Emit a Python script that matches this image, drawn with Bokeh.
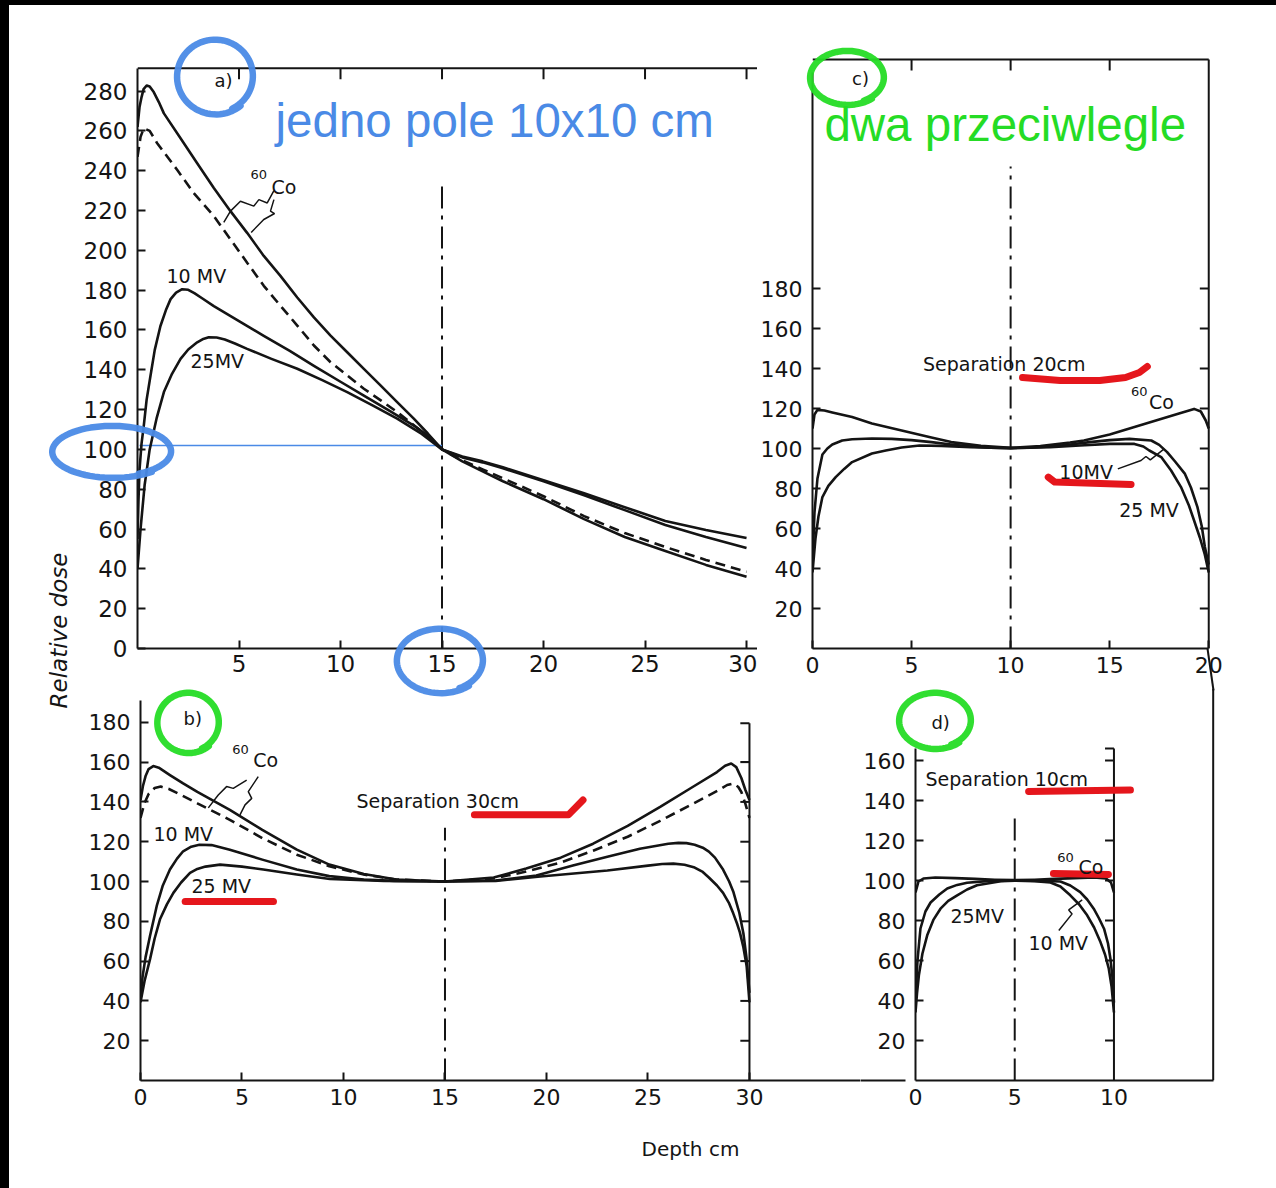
import numpy as np
from bokeh.plotting import figure
from bokeh.models import Range1d, LinearAxis, FixedTicker, Label, Div, Spacer
from bokeh.layouts import row, column
from bokeh.embed import file_html
from bokeh.resources import INLINE

# ---------------- data: panel a) single 10x10 field, normalised to 100 at 15 cm ----------------
A_CO_SOLID_DEPTH = [0, 0.1, 0.2, 0.3, 0.45, 0.6, 0.8, 1.05, 1.3, 2.12, 2.94, 3.76, 4.58, 5.4, 6.22, 7.04,
                    7.87, 8.69, 9.51, 10.33, 11.15, 11.97, 12.79, 13.61, 14.3, 15, 16, 17, 18, 19, 20,
                    22, 24, 26, 28, 30]
A_CO_SOLID_DOSE = [262, 272, 277, 281, 282.8, 282.3, 279.5, 274.5, 268.8, 256.3, 243.8, 231.3, 219.7,
                   208.8, 197.2, 187.2, 176.3, 166.3, 157.2, 148.8, 140.5, 132.2, 123.8, 115.5, 108,
                   100, 94, 89, 84, 79.5, 75, 65, 56, 49, 42, 36]
A_CO_DASH_DEPTH = [0, 0.15, 0.31, 0.6, 0.97, 1.95, 2.77, 3.76, 4.58, 5.4, 6.22, 7.04, 7.87, 8.69, 9.51,
                   10.33, 11.15, 12.0, 12.79, 14.0, 15, 16, 17, 18, 20, 22, 24, 26, 28, 30]
A_CO_DASH_DOSE = [247, 257, 261.3, 260, 253.8, 240.5, 228.8, 217.2, 205.5, 193.8, 182.2, 172.2, 162.2,
                  152.2, 143.8, 137.2, 130.5, 124.5, 118.8, 109, 100, 94.5, 90, 85.5, 76.5, 66.5, 58,
                  51, 44.5, 38.5]
A_10MV_DEPTH = [0, 0.05, 0.1, 0.2, 0.31, 0.45, 0.64, 0.85, 1.13, 1.4, 1.63, 1.9, 2.2, 2.5, 2.8, 3.2,
                3.76, 5.0, 6.22, 7.5, 8.69, 10.0, 11.15, 12.4, 13.61, 14.4, 15, 16, 17, 18, 20, 22, 24,
                26, 28, 30]
A_10MV_DOSE = [55, 75, 90, 103, 112, 125, 137, 150, 162, 170, 175.5, 178.8, 180.5, 180.2, 178.5, 175.8,
               172, 164.5, 157, 149.5, 142, 134, 127, 119.5, 112, 106.2, 100, 96, 93.5, 90.5, 84, 77,
               69.5, 62, 56, 50.5]
A_25MV_DEPTH = [0, 0.15, 0.35, 0.6, 0.95, 1.3, 1.7, 2.12, 2.5, 2.94, 3.2, 3.51, 3.9, 4.3, 4.8, 5.4,
                6.6, 7.87, 9.1, 10.33, 11.6, 12.79, 14.0, 15, 16, 17, 18, 20, 22, 24, 26, 28, 30]
A_25MV_DOSE = [40, 60, 82, 100, 116, 128.8, 138, 145.5, 150.2, 153.8, 155.3, 156.3, 156.2, 155.2, 153.2,
               150.5, 145.5, 140.5, 134.8, 128.8, 122, 115.5, 107.8, 100, 96.5, 94, 91, 84.5, 78, 71,
               64, 59.5, 55.5]

# ---------------- data: panel b) parallel opposed, separation 30 cm ----------------
B_CO_SOLID_DEPTH = [0, 0.12, 0.25, 0.4, 0.63, 0.9, 1.45, 2.1, 2.8, 4.4, 6.0, 7.7, 9.3, 11.0, 12.6, 15.0,
                    17.4, 19.0, 20.7, 22.3, 24.0, 25.6, 27.2, 28.4, 28.8, 29.1, 29.35, 29.6, 29.8, 30]
B_CO_SOLID_DOSE = [141, 148, 153, 156.5, 158, 157.2, 153.5, 149.3, 145, 136, 126, 116, 108.5, 103.8, 101,
                   100, 102, 106.5, 112, 119, 128, 137.5, 147.5, 155, 158.2, 159.3, 157.5, 152, 146, 141]
B_CO_DASH_DEPTH = [0, 0.2, 0.4, 0.7, 1.0, 1.4, 2.0, 2.8, 4.4, 6.0, 7.7, 9.3, 11.0, 12.6, 15.0, 17.4,
                   19.0, 20.7, 22.3, 24.0, 25.6, 27.2, 28.5, 28.9, 29.2, 29.45, 29.6, 29.8, 30]
B_CO_DASH_DOSE = [132, 139.5, 144, 147, 147.7, 146.5, 143.5, 139.3, 131, 121.8, 113.5, 107.7, 103.5, 101,
                  100, 101.5, 105, 109.5, 115.5, 122.5, 130.5, 139, 146, 148.5, 149.3, 147.5, 145, 139,
                  132]
B_10MV_DEPTH = [0, 0.1, 0.25, 0.47, 0.8, 1.1, 1.45, 1.8, 2.1, 2.5, 2.9, 3.5, 4.4, 6.0, 7.7, 9.3, 11.0,
                12.5, 15.0, 17.5, 19.5, 21.3, 23.0, 24.6, 26.0, 26.5, 26.9, 27.3, 27.7, 28.0, 28.3,
                28.7, 29.0, 29.2, 29.5, 29.7, 29.85, 30]
B_10MV_DOSE = [42, 52, 62, 72.7, 87.7, 98, 106, 111.5, 115.2, 117.5, 118.5, 118.3, 116, 111, 106, 102.7,
               101, 100.3, 100, 100.5, 103, 108, 112.5, 116.5, 119, 119.4, 119.3, 118.5, 117, 115, 112,
               106, 100, 95, 84.3, 74, 62, 44]
B_25MV_DEPTH = [0, 0.2, 0.47, 0.7, 0.96, 1.3, 1.62, 2.0, 2.44, 2.8, 3.2, 3.92, 5.0, 6.05, 7.7, 9.33,
                12.0, 15.0, 17.5, 19.7, 23.0, 25.0, 25.7, 26.25, 26.8, 27.3, 27.7, 28.0, 28.4, 28.7,
                29.0, 29.2, 29.4, 29.53, 29.7, 29.86, 30]
B_25MV_DOSE = [39.3, 50, 61, 71.5, 81, 88.5, 94.3, 99.5, 104.3, 106.3, 107.5, 108.5, 107.5, 106, 103.5,
               101.3, 100.3, 100, 100.3, 102.5, 105.5, 108, 108.8, 109, 108.4, 107, 104.8, 102, 98,
               94.3, 89, 84, 78.5, 74.3, 67, 57.7, 39.3]

# ---------------- data: panel c) parallel opposed, separation 20 cm ----------------
C_CO_DEPTH = [0, 0.1, 0.25, 0.6, 1.0, 2.0, 3.0, 4.5, 6.0, 7.0, 8.5, 10.0, 11.5, 13.0, 13.7, 15.0,
              16.25, 17.5, 18.5, 19.26, 19.6, 19.85, 20]
C_CO_DOSE = [110, 117, 119.3, 119, 118, 115.7, 112.5, 109, 105.5, 103.2, 101.3, 100.3, 101.2, 103, 104,
             107, 110.7, 114.5, 117.5, 119.8, 118.5, 114, 110]
C_10MV_DEPTH = [0, 0.1, 0.25, 0.5, 0.75, 1.0, 1.5, 2.0, 3.0, 4.0, 5.0, 6.0, 7.0, 8.0, 9.0, 10.0, 11.0,
                12.0, 13.0, 14.0, 15.0, 16.0, 17.1, 17.5, 17.9, 18.3, 18.8, 19.1, 19.43, 19.65, 19.8,
                20]
C_10MV_DOSE = [42, 68, 85, 97, 100, 102, 104, 104.6, 105, 104.8, 104.2, 103.2, 102, 101, 100.4, 100.2,
               100.4, 101, 102, 103.2, 104.2, 104.8, 104, 101.8, 98.2, 93.5, 87.3, 80.5, 70.7, 61, 51,
               42]
C_25MV_DEPTH = [0, 0.15, 0.3, 0.5, 0.8, 1.17, 1.6, 2.0, 3.0, 3.7, 4.5, 5.4, 6.5, 8.0, 10.0, 12.0, 13.5,
                15.0, 16.25, 16.7, 17.0, 17.6, 18.1, 18.6, 19.0, 19.26, 19.55, 19.8, 20]
C_25MV_DOSE = [38, 55, 66, 75.7, 81.3, 85.7, 89.8, 93.2, 97.5, 99, 100.5, 101.5, 101.3, 100.7, 100.2,
               100.7, 101.5, 102.3, 102.3, 101, 99, 95.7, 89, 80.7, 71.5, 64, 55.5, 47, 38]

# ---------------- data: panel d) parallel opposed, separation 10 cm ----------------
D_CO_DEPTH = [0, 0.15, 0.4, 1.0, 2.0, 3.0, 4.0, 5.0, 6.0, 7.0, 8.0, 9.0, 9.6, 9.85, 10]
D_CO_DOSE = [94, 99.5, 101, 101.5, 101.2, 100.8, 100.4, 100.2, 100.4, 100.8, 101.2, 101.5, 101, 99, 94]
D_10MV_DEPTH = [0, 0.05, 0.1, 0.25, 0.5, 0.76, 1.2, 1.6, 2.1, 2.6, 3.6, 5.0, 6.4, 7.3, 7.8, 8.3, 8.65,
                8.98, 9.25, 9.5, 9.7, 9.82, 9.92, 10]
D_10MV_DOSE = [39, 50, 60, 76, 84.5, 89, 93, 96, 97.8, 98.9, 99.7, 100, 99.8, 99.5, 97.5, 94.2, 90.5,
               85.9, 81, 75.9, 68.5, 61, 52, 39]
D_25MV_DEPTH = [0, 0.08, 0.17, 0.35, 0.59, 0.9, 1.26, 1.65, 2.1, 2.6, 3.1, 4.3, 5.0, 6.0, 6.8, 7.3, 7.8,
                8.25, 8.65, 9.0, 9.32, 9.55, 9.74, 9.88, 10]
D_25MV_DOSE = [34, 44, 52.6, 63.5, 72.6, 80.3, 85.9, 89.8, 92.6, 95.5, 97.6, 99.6, 99.9, 99.6, 99, 97,
               92.6, 88, 82.6, 76.5, 69.2, 63, 55.9, 47, 34]

# ---------------- tick labels ----------------
A_Y_TICKS = list(range(0, 281, 20))
A_X_TICKS = [5, 10, 15, 20, 25, 30]
B_Y_TICKS = list(range(20, 181, 20))
B_X_TICKS = [0, 5, 10, 15, 20, 25, 30]
C_Y_TICKS = list(range(20, 181, 20))
C_X_TICKS = [0, 5, 10, 15, 20]
D_Y_TICKS = list(range(20, 161, 20))
D_X_TICKS = [0, 5, 10]

# ---------------- styles ----------------
FONT = "DejaVu Sans"
SLIDE_FONT = "Liberation Sans"
INK = "#141414"
BLUE = "#4a8ae6"
GREEN = "#25dc25"
RED = "#e5161c"
LW = 2.6


def make_fig(width, height, x_end, y_end, left, bottom):
    p = figure(width=width, height=height, x_range=Range1d(0, x_end), y_range=Range1d(0, y_end),
               x_axis_type=None, y_axis_type=None, output_backend="svg", toolbar_location=None,
               min_border_left=left, min_border_right=0, min_border_top=0, min_border_bottom=bottom,
               margin=0)
    p.outline_line_color = None
    p.background_fill_color = "white"
    p.border_fill_color = "white"
    return p


def add_axis(p, side, ticks, bounds, tick_len=8, standoff=8, size="22px"):
    ax = LinearAxis(ticker=FixedTicker(ticks=ticks), bounds=bounds,
                    major_tick_in=tick_len, major_tick_out=0, minor_tick_in=0, minor_tick_out=0,
                    axis_line_width=2, axis_line_color=INK,
                    major_tick_line_width=2, major_tick_line_color=INK,
                    major_label_text_font=FONT, major_label_text_font_size=size,
                    major_label_text_color=INK, major_label_standoff=standoff)
    p.add_layout(ax, side)
    return ax


def txt(p, x, y, s, size="19px", color=INK, font=FONT, style="normal", align="left", angle=0.0):
    p.add_layout(Label(x=x, y=y, text=s, text_font=font, text_font_size=size, text_color=color,
                       text_font_style=style, text_align=align, text_baseline="middle", angle=angle))


def curves(p, co_solid, co_dash, mv10, mv25):
    if co_solid:
        p.line(co_solid[0], co_solid[1], line_width=LW, color=INK, line_join="round")
    if co_dash:
        p.line(co_dash[0], co_dash[1], line_width=LW, color=INK, line_dash="10 6")
    p.line(mv10[0], mv10[1], line_width=LW, color=INK, line_join="round")
    p.line(mv25[0], mv25[1], line_width=LW, color=INK, line_join="round")


def dashdot(p, x, top):
    p.line([x, x], [0, top], line_width=2, color=INK, line_dash="22 7 4 7")


def side_ticks(p, x, ticks, length):
    p.segment(x0=[x] * len(ticks), y0=ticks, x1=[x - length] * len(ticks), y1=ticks,
              line_width=2, color=INK)


def top_ticks(p, y, ticks, length):
    p.segment(x0=ticks, y0=[y] * len(ticks), x1=ticks, y1=[y - length] * len(ticks),
              line_width=2, color=INK)


# ================= panel a =================
pa = make_fig(682, 683, 30.54, 323, 62, 37)
add_axis(pa, "left", A_Y_TICKS, (0, 291.5), standoff=10, size="23px")
add_axis(pa, "below", A_X_TICKS, (0, 30.54), standoff=6, size="23px")
pa.line([0, 30.54], [291.5, 291.5], line_width=2, color=INK)
top_ticks(pa, 291.5, A_X_TICKS, 5.5)
dashdot(pa, 15, 234)
pa.line([0.1, 15], [102, 102], line_width=1.6, color=BLUE)
curves(pa, (A_CO_SOLID_DEPTH, A_CO_SOLID_DOSE), (A_CO_DASH_DEPTH, A_CO_DASH_DOSE),
       (A_10MV_DEPTH, A_10MV_DOSE), (A_25MV_DEPTH, A_25MV_DOSE))
txt(pa, 3.79, 285.5, "a)", size="18px")
txt(pa, 1.43, 187, "10 MV")
txt(pa, 2.61, 144.5, "25MV")
txt(pa, 5.57, 238, "60", size="13px")
txt(pa, 6.6, 232, "Co")
pa.line([6.72, 6.39, 5.98, 5.73, 5.07, 4.58, 4.25], [230, 223.8, 225.5, 222.2, 224.7, 219.7, 214],
        line_width=1.5, color=INK)
pa.line([6.72, 6.55, 6.75, 6.22, 5.6], [225.5, 219.7, 218.5, 215.5, 209], line_width=1.5, color=INK)
txt(pa, 6.8, 265, "jedno pole 10x10 cm", size="47.5px", color=BLUE, font=SLIDE_FONT)

# ================= panel c =================
pc = make_fig(519, 683, 23.42, 321.5, 53, 40)
add_axis(pc, "left", C_Y_TICKS, (0, 288), standoff=10, size="22px")
add_axis(pc, "below", C_X_TICKS, (0, 20), standoff=8, size="22px")
pc.line([0, 20], [294.5, 294.5], line_width=2, color=INK)
pc.line([20, 20], [0, 294.5], line_width=2, color=INK)
top_ticks(pc, 294.5, [5, 10, 15], 5.5)
side_ticks(pc, 20, C_Y_TICKS, 0.45)
dashdot(pc, 10, 241)
curves(pc, (C_CO_DEPTH, C_CO_DOSE), None, (C_10MV_DEPTH, C_10MV_DOSE), (C_25MV_DEPTH, C_25MV_DOSE))
txt(pc, 2.0, 285, "c)", size="18px")
txt(pc, 5.58, 142.5, "Separation 20cm", size="19px")
txt(pc, 16.08, 128.5, "60", size="13px")
txt(pc, 16.98, 123.5, "Co")
txt(pc, 12.46, 88.5, "10MV")
txt(pc, 15.48, 69.5, "25 MV")
pc.line([15.41, 16.58, 16.83, 17.05, 17.75], [89.8, 94, 96, 94.3, 99.8], line_width=1.5, color=INK)
pc.line([10.6, 12.5, 14.5, 15.8, 16.5, 16.9], [135.5, 134, 134, 135.5, 138, 141],
        line_width=7, color=RED, line_cap="round", line_join="round")
pc.line([11.9, 12.23, 16.08], [85.7, 83.2, 82], line_width=7, color=RED, line_cap="round",
        line_join="round")
txt(pc, 0.6, 262, "dwa przeciwlegle", size="47.5px", color=GREEN, font=SLIDE_FONT)

# ================= panel b =================
pb = make_fig(785, 500, 35.47, 197, 65, 106)
add_axis(pb, "left", B_Y_TICKS, (0, 191), standoff=10, size="22px")
add_axis(pb, "below", B_X_TICKS, (0, 35.47), standoff=8, size="22px")
pb.line([30, 30], [0, 179.5], line_width=2, color=INK)
side_ticks(pb, 30, B_Y_TICKS[:-1] + [179.5], 0.45)
dashdot(pb, 15, 127)
curves(pb, (B_CO_SOLID_DEPTH, B_CO_SOLID_DOSE), (B_CO_DASH_DEPTH, B_CO_DASH_DOSE),
       (B_10MV_DEPTH, B_10MV_DOSE), (B_25MV_DEPTH, B_25MV_DOSE))
txt(pb, 2.12, 182, "b)", size="18px")
txt(pb, 4.52, 166.5, "60", size="13px")
txt(pb, 5.55, 161, "Co")
pb.line([5.23, 4.57, 4.24, 3.83, 3.34], [151, 146.8, 147.7, 143.5, 137], line_width=1.5, color=INK)
pb.line([5.8, 5.31, 5.48, 5.15, 4.9], [152.7, 145.2, 141.8, 138.5, 133.5], line_width=1.5, color=INK)
txt(pb, 10.64, 140.5, "Separation 30cm", size="19px")
txt(pb, 0.64, 124, "10 MV")
txt(pb, 2.51, 97.5, "25 MV")
pb.line([2.2, 6.55], [90, 90], line_width=7, color=RED, line_cap="round")
pb.line([16.45, 21.08, 21.8], [133.5, 133.5, 141], line_width=7, color=RED, line_cap="round",
        line_join="round")

# ================= panel d =================
pd_ = make_fig(416, 500, 18.19, 196, 55, 108)
add_axis(pd_, "left", D_Y_TICKS, (0, 166), standoff=10, size="22px")
add_axis(pd_, "below", D_X_TICKS, (0, 15), tick_len=0, standoff=8, size="22px")
pd_.line([10, 10], [0, 166], line_width=2, color=INK)
side_ticks(pd_, 10, D_Y_TICKS + [166], 0.45)
pd_.line([15, 15], [0, 196], line_width=2, color=INK)
dashdot(pd_, 5, 134)
curves(pd_, (D_CO_DEPTH, D_CO_DOSE), None, (D_10MV_DEPTH, D_10MV_DOSE), (D_25MV_DEPTH, D_25MV_DOSE))
txt(pd_, 0.8, 179, "d)", size="18px")
txt(pd_, 0.5, 151, "Separation  10cm", size="19px")
txt(pd_, 7.14, 111.5, "60", size="13px")
txt(pd_, 8.21, 107, "Co")
txt(pd_, 1.76, 82.5, "25MV")
txt(pd_, 5.69, 69, "10 MV")
pd_.line([7.22, 7.89, 7.72, 8.4], [75, 83.3, 85.3, 90.3], line_width=1.5, color=INK)
pd_.line([5.7, 10.83], [144.5, 145.2], line_width=7, color=RED, line_cap="round")
pd_.line([6.95, 9.72], [103.5, 103], line_width=7, color=RED, line_cap="round")

# ================= transparent overlay for page-level annotations =================
ov = figure(width=1276, height=1188, x_range=Range1d(0, 1276), y_range=Range1d(1188, 0),
            x_axis_type=None, y_axis_type=None, output_backend="svg", toolbar_location=None,
            min_border_left=0, min_border_right=0, min_border_top=0, min_border_bottom=0,
            margin=(-1188, 0, 0, 0))
ov.outline_line_color = None
ov.background_fill_color = None
ov.border_fill_color = None

# hand-drawn highlight rings (centre x, centre y, radius x, radius y, colour)
RINGS = [(215, 76, 37, 36, BLUE), (112, 451, 58, 25, BLUE), (440, 660, 42, 31, BLUE),
         (847, 77, 36, 26, GREEN), (188, 722, 30, 29, GREEN), (935, 720, 35, 27, GREEN)]
for cx, cy, rx, ry, col in RINGS:
    t = np.linspace(-0.35 * np.pi, 1.72 * np.pi, 80)
    grow = 1.0 + 0.06 * (t - t[0]) / (t[-1] - t[0])
    ov.line((cx + rx * grow * np.cos(t)).tolist(), (cy - ry * grow * np.sin(t)).tolist(),
            line_width=6.5, color=col, line_alpha=0.95, line_cap="round", line_join="round")

ov.line([1207, 1213], [648, 690], line_width=2, color=INK)
ov.line([860, 905], [1080, 1080], line_width=2, color=INK)
txt(ov, 58, 630, "Relative dose", size="23px", style="italic", align="center", angle=np.pi / 2)
txt(ov, 690, 1148, "Depth cm", size="20px", align="center")

top_bar = Div(width=1276, height=5, margin=0, styles={"background-color": "black"})
left_bar = Div(width=9, height=1183, margin=0, styles={"background-color": "black"})
gap = Spacer(width=66, height=1183, margin=0)

grid = column(row(pa, pc, margin=0), row(pb, pd_, margin=0), margin=0)
page = column(top_bar, row(left_bar, gap, grid, margin=0), ov, margin=0)

html = file_html(page, INLINE, "Relative dose")
html = html.replace("<head>", "<head><style>html,body{margin:0;padding:0;background:white;}</style>", 1)
open("out.html", "w").write(html)
